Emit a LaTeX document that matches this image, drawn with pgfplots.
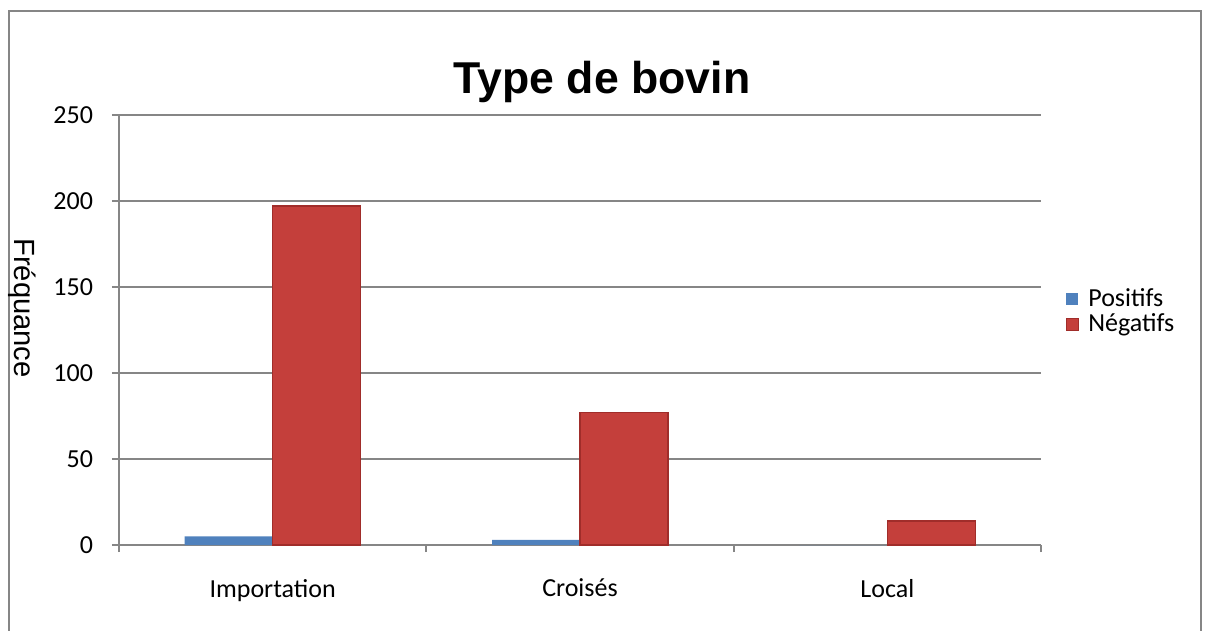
\documentclass[border=0pt]{standalone}
\usepackage{pgfplots}
\pgfplotsset{compat=1.18}
\usepackage{fontspec}
\setmainfont{Carlito}
\newfontfamily\arialfont{Liberation Sans}
\definecolor{gridgray}{RGB}{134,134,134}
\definecolor{blueedge}{RGB}{52,92,142}
\definecolor{bluemid}{RGB}{79,129,189}
\definecolor{rededge}{RGB}{160,45,42}
\definecolor{redmid}{RGB}{196,63,59}
\begin{document}
\begin{tikzpicture}
\path[use as bounding box] (0pt,0pt) rectangle (603pt,-315.5pt);
\draw[gridgray, line width=1pt] (4.5pt,-5.5pt) rectangle (600.5pt,-330pt);
\begin{axis}[
  at={(59.5pt,-272.5pt)}, anchor=south west,
  scale only axis, width=461pt, height=215pt,
  xmin=-0.5, xmax=2.5, ymin=0, ymax=250,
  ytick={0,50,100,150,200,250},
  ymajorgrids, grid style={gridgray, line width=1pt},
  axis x line*=bottom, axis y line*=left,
  axis line style={-, gridgray, line width=1pt},
  tick style={gridgray, line width=1pt},
  tick align=outside, major tick length=3.5pt,
  xtick={-0.5,0.5,1.5,2.5}, xticklabels={},
  extra x ticks={0,1,2},
  extra x tick labels={Importation,Croisés,Local},
  extra x tick style={major tick length=0pt},
  ticklabel style={font=\fontsize{13}{15}\selectfont, text=black},
  /pgf/number format/assume math mode=true,
  xticklabel style={yshift=-13.5pt},
  yticklabel style={xshift=-6pt},
  ybar=0pt, bar width=44pt,
  legend style={at={(1.02,0.543)}, anchor=west, draw=none, fill=none,
    font=\fontsize{13}{15}\selectfont, row sep=-2pt},
  legend cell align=left,
  legend image code/.code={\fill[#1, line width=0.5pt] (0pt,-3pt) rectangle (6pt,3pt); \path[draw=none, fill=none] (0pt,0pt) -- (9pt,0pt);},
]
\addplot[draw=none, fill=bluemid]
  coordinates {(0,5) (1,3) (2,0)};
\addplot[draw=rededge, line width=0.8pt, fill=redmid]
  coordinates {(0,197) (1,77) (2,14)};
\legend{Positifs, Négatifs}
\end{axis}
\node[font=\arialfont\bfseries\fontsize{22.3}{26}\selectfont, anchor=base] at (301pt,-47pt) {Type de bovin};
\node[font=\arialfont\fontsize{14.6}{16}\selectfont, rotate=-90] at (11pt,-154pt) {Fréquance};
\end{tikzpicture}
\end{document}
